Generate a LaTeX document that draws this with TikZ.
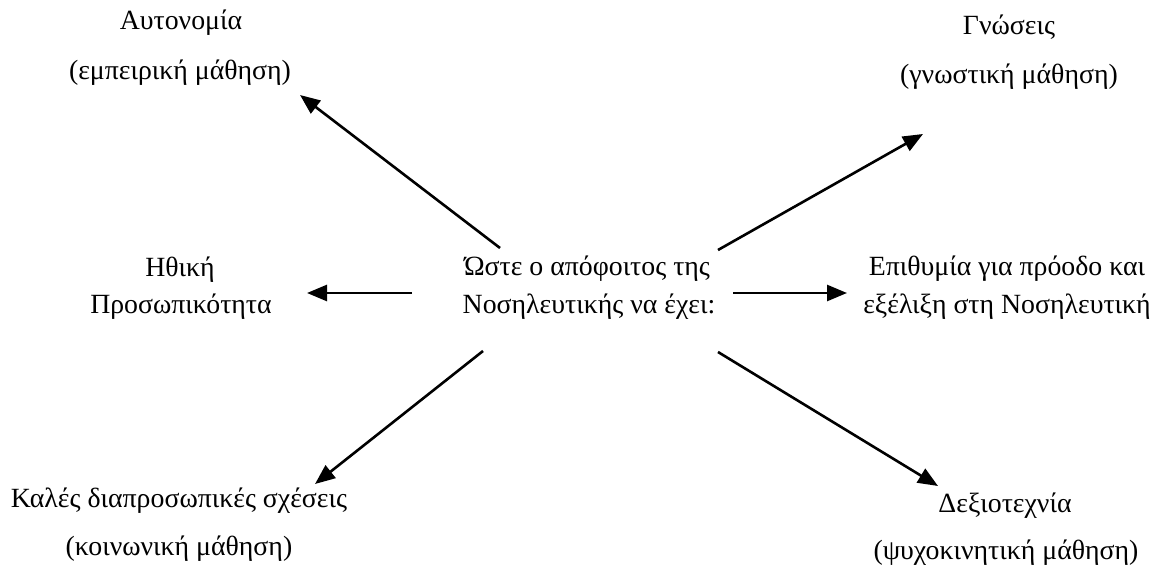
\documentclass[tikz,border=0pt]{standalone}
\usepackage{fontspec}
\setmainfont{Liberation Serif}
\usetikzlibrary{arrows.meta}
\tikzset{
  lbl/.style={anchor=base, inner sep=0pt, font=\fontsize{13.9pt}{16pt}\selectfont},
  conn/.style={line width=1.3pt, -{Triangle[length=10pt,width=8pt]}}
}
\begin{document}
\begin{tikzpicture}[x=0.5pt,y=-0.5pt]
\useasboundingbox (0,0) rectangle (1161,577);
% labels
\node[lbl] (aut1) at (181,30) {Αυτονομία};
\node[lbl] (aut2) at (180,80) {(εμπειρική μάθηση)};
\node[lbl] (gno1) at (1009,35) {Γνώσεις};
\node[lbl] (gno2) at (1009,84) {(γνωστική μάθηση)};
\node[lbl] (ith1) at (180,277) {Ηθική};
\node[lbl] (ith2) at (181,313) {Προσωπικότητα};
\node[lbl] (ctr1) at (587,276) {Ώστε ο απόφοιτος της};
\node[lbl] (ctr2) at (589,313) {Νοσηλευτικής να έχει:};
\node[lbl] (epi1) at (1007,276) {Επιθυμία για πρόοδο και};
\node[lbl] (epi2) at (1007,314) {εξέλιξη στη Νοσηλευτική};
\node[lbl] (kal1) at (179,507) {Καλές διαπροσωπικές σχέσεις};
\node[lbl] (kal2) at (179,555) {(κοινωνική μάθηση)};
\node[lbl] (dex1) at (1005,512) {Δεξιοτεχνία};
\node[lbl] (dex2) at (1006,559) {(ψυχοκινητική μάθηση)};
% connector ends
\coordinate (sUL) at (500,248); \coordinate (tUL) at (300,95);
\coordinate (sUR) at (718,250); \coordinate (tUR) at (923,134);
\coordinate (sL) at (412,293);  \coordinate (tL) at (307,293);
\coordinate (sR) at (733,293);  \coordinate (tR) at (847,293);
\coordinate (sLL) at (483,351); \coordinate (tLL) at (315,484);
\coordinate (sLR) at (718,352); \coordinate (tLR) at (938,486);
\draw[conn] (sUL) -- (tUL);
\draw[conn] (sUR) -- (tUR);
\draw[conn] (sL) -- (tL);
\draw[conn] (sR) -- (tR);
\draw[conn] (sLL) -- (tLL);
\draw[conn] (sLR) -- (tLR);
\end{tikzpicture}
\end{document}
